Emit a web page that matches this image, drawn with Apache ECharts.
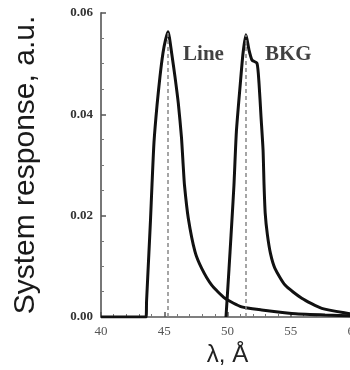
<!DOCTYPE html>
<html>
<head>
<meta charset="utf-8">
<script src="https://cdn.jsdelivr.net/npm/echarts@6/dist/echarts.min.js"></script>
<style>
  html, body { margin: 0; padding: 0; background: #fff; }
  #chart { width: 350px; height: 370px; }
</style>
</head>
<body>
<div id="chart"></div>
<script>
// Line peak (wavelength in Å, response in a.u.)
const lineX = [40, 43.56, 43.6, 43.79, 43.91, 44.03, 44.19, 44.43, 44.66, 44.9, 45.1, 45.3,
  45.59, 45.85, 46.11, 46.36, 46.5, 46.6, 46.9, 47.43, 47.96, 48.75, 49.8, 51.12, 52.7, 55.08, 57.71, 60];
const lineY = [0, 0, 0.003, 0.0128, 0.019, 0.026, 0.0345, 0.0418, 0.0474, 0.0521, 0.0547, 0.0563,
  0.052, 0.0474, 0.0422, 0.0355, 0.0298, 0.026, 0.0195, 0.0129, 0.0096, 0.0063, 0.0037, 0.002, 0.0014, 0.0007, 0.0004, 0.0002];

// BKG peak
const bkgX = [49.88, 50.04, 50.2, 50.36, 50.51, 50.7, 50.99, 51.23, 51.46, 51.7, 51.94, 52.33,
  52.49, 52.65, 52.81, 52.89, 52.98, 53.15, 53.4, 53.75, 54.55, 55.87, 57.45, 59.55, 60];
const bkgY = [0, 0.0063, 0.0128, 0.0195, 0.026, 0.0365, 0.0454, 0.0521, 0.0557, 0.0527, 0.0507, 0.0501,
  0.0462, 0.0395, 0.033, 0.026, 0.0205, 0.0163, 0.0125, 0.0096, 0.0063, 0.0037, 0.0017, 0.0007, 0.0006];

// peak positions (dashed guides)
const peakX = [45.3, 51.46];
const peakY = [0.0563, 0.0557];

// curve names written on the plot
const labelNames = ['Line', 'BKG'];
const labelX = [48.1, 54.8];
const labelY = [0.0517, 0.0517];

const chart = echarts.init(document.getElementById('chart'), null, { renderer: 'canvas' });

const pairs = (xs, ys) => xs.map((x, i) => [x, ys[i]]);
const guide = (i) => [[{ coord: [peakX[i], 0] }, { coord: [peakX[i], peakY[i]] }]];

const option = {
  animation: false,
  backgroundColor: '#fff',
  grid: {
    left: 101,
    top: 13,
    width: 253,
    height: 304,
    containLabel: false,
    outerBoundsMode: 'none',
  },
  xAxis: {
    type: 'value',
    min: 40,
    max: 60,
    interval: 5,
    name: 'λ, Å',
    nameLocation: 'middle',
    nameGap: 20,
    nameTextStyle: { fontFamily: 'Liberation Sans', fontSize: 24, color: '#222' },
    axisLine: { onZero: false, lineStyle: { color: '#555', width: 1.5 } },
    axisTick: { inside: true, length: 5, lineStyle: { color: '#555', width: 1.5 } },
    minorTick: { show: true, splitNumber: 5, length: 3, lineStyle: { color: '#777', width: 1 } },
    axisLabel: { margin: 8, fontFamily: 'Liberation Serif', fontSize: 13, color: '#555' },
    splitLine: { show: false },
  },
  yAxis: {
    type: 'value',
    min: 0,
    max: 0.06,
    interval: 0.02,
    name: 'System response, a.u.',
    nameLocation: 'middle',
    nameGap: 60,
    nameTextStyle: { fontFamily: 'Liberation Sans', fontSize: 30, color: '#1a1a1a' },
    axisLine: { show: true, lineStyle: { color: '#777', width: 2 } },
    axisTick: { inside: true, length: 5, lineStyle: { color: '#555', width: 1.5 } },
    minorTick: { show: true, splitNumber: 4, length: 3, lineStyle: { color: '#777', width: 1 } },
    axisLabel: {
      margin: 8,
      fontFamily: 'Liberation Serif',
      fontWeight: 'bold',
      fontSize: 13,
      color: '#333',
      formatter: (v) => v.toFixed(2),
    },
    splitLine: { show: false },
  },
  series: [
    {
      name: 'Line',
      type: 'line',
      data: pairs(lineX, lineY),
      symbol: 'none',
      smooth: 0.2,
      lineStyle: { color: '#111', width: 3 },
      markLine: {
        silent: true,
        symbol: 'none',
        label: { show: false },
        lineStyle: { color: '#888', type: [4, 3], width: 1.5 },
        data: guide(0),
      },
      z: 3,
    },
    {
      name: 'BKG',
      type: 'line',
      data: pairs(bkgX, bkgY),
      symbol: 'none',
      smooth: 0.2,
      lineStyle: { color: '#111', width: 3 },
      markLine: {
        silent: true,
        symbol: 'none',
        label: { show: false },
        lineStyle: { color: '#888', type: [4, 3], width: 1.5 },
        data: guide(1),
      },
      z: 3,
    },
    {
      name: 'labels',
      type: 'scatter',
      symbolSize: 0,
      silent: true,
      data: labelNames.map((n, i) => [labelX[i], labelY[i], n]),
      label: {
        show: true,
        position: 'inside',
        formatter: (p) => p.value[2],
        fontFamily: 'Liberation Serif',
        fontWeight: 'bold',
        fontSize: 21,
        color: '#111',
      },
    },
  ],
};

chart.setOption(option);
</script>
</body>
</html>
